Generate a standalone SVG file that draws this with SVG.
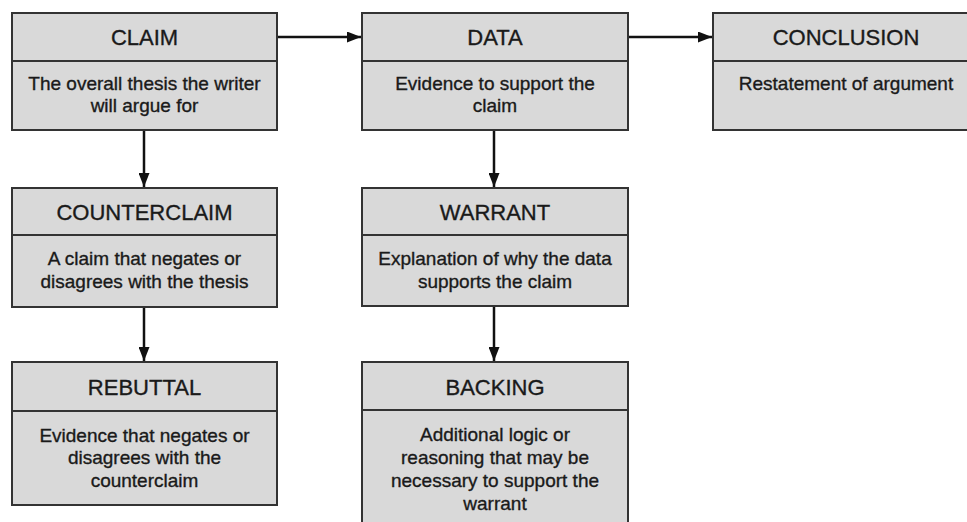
<svg xmlns="http://www.w3.org/2000/svg" width="967" height="522" viewBox="0 0 967 522">
  <defs>
    <marker id="ah" markerWidth="14" markerHeight="11" refX="14" refY="5.5" orient="auto" markerUnits="userSpaceOnUse">
      <path d="M0,0 L14,5.5 L0,11 Z" fill="#111"/>
    </marker>
    <style>
      .box { fill: #d9d9d9; stroke: #333; stroke-width: 2; }
      .div { stroke: #333; stroke-width: 2; }
      .hd { font-family: "Liberation Sans", Arial, sans-serif; font-size: 22px; fill: #1a1a1a; stroke: #1a1a1a; stroke-width: 0.35; text-anchor: middle; }
      .bd { font-family: "Liberation Sans", Arial, sans-serif; font-size: 19px; fill: #1a1a1a; stroke: #1a1a1a; stroke-width: 0.35; text-anchor: middle; }
      .conn { stroke: #111; stroke-width: 2.5; fill: none; marker-end: url(#ah); }
    </style>
  </defs>
  <rect width="967" height="522" fill="#fff"/>

  <g id="claim">
    <rect class="box" x="12" y="13" width="265" height="117"/>
    <line class="div" x1="12" y1="61" x2="277" y2="61"/>
    <text class="hd" x="144.5" y="45">CLAIM</text>
    <text class="bd" x="144.5" y="90">The overall thesis the writer</text>
    <text class="bd" x="144.5" y="112">will argue for</text>
  </g>

  <g id="data">
    <rect class="box" x="362" y="13" width="266" height="117"/>
    <line class="div" x1="362" y1="61" x2="628" y2="61"/>
    <text class="hd" x="495" y="45">DATA</text>
    <text class="bd" x="495" y="90">Evidence to support the</text>
    <text class="bd" x="495" y="112">claim</text>
  </g>

  <g id="conclusion">
    <rect class="box" x="713" y="13" width="266" height="117"/>
    <line class="div" x1="713" y1="61" x2="979" y2="61"/>
    <text class="hd" x="846" y="45">CONCLUSION</text>
    <text class="bd" x="846" y="90">Restatement of argument</text>
  </g>

  <g id="counterclaim">
    <rect class="box" x="12" y="188" width="265" height="119"/>
    <line class="div" x1="12" y1="235" x2="277" y2="235"/>
    <text class="hd" x="144.5" y="220">COUNTERCLAIM</text>
    <text class="bd" x="144.5" y="265">A claim that negates or</text>
    <text class="bd" x="144.5" y="288">disagrees with the thesis</text>
  </g>

  <g id="warrant">
    <rect class="box" x="362" y="188" width="266" height="118"/>
    <line class="div" x1="362" y1="235" x2="628" y2="235"/>
    <text class="hd" x="495" y="220">WARRANT</text>
    <text class="bd" x="495" y="265">Explanation of why the data</text>
    <text class="bd" x="495" y="288">supports the claim</text>
  </g>

  <g id="rebuttal">
    <rect class="box" x="12" y="362" width="265" height="143"/>
    <line class="div" x1="12" y1="411" x2="277" y2="411"/>
    <text class="hd" x="144.5" y="395">REBUTTAL</text>
    <text class="bd" x="144.5" y="442">Evidence that negates or</text>
    <text class="bd" x="144.5" y="464">disagrees with the</text>
    <text class="bd" x="144.5" y="487">counterclaim</text>
  </g>

  <g id="backing">
    <rect class="box" x="362" y="362" width="266" height="175"/>
    <line class="div" x1="362" y1="410" x2="628" y2="410"/>
    <text class="hd" x="495" y="395">BACKING</text>
    <text class="bd" x="495" y="441">Additional logic or</text>
    <text class="bd" x="495" y="464">reasoning that may be</text>
    <text class="bd" x="495" y="487">necessary to support the</text>
    <text class="bd" x="495" y="510">warrant</text>
  </g>

  <g id="connectors">
    <line class="conn" x1="278" y1="37" x2="361" y2="37"/>
    <line class="conn" x1="629" y1="37" x2="712" y2="37"/>
    <line class="conn" x1="144" y1="131" x2="144" y2="187"/>
    <line class="conn" x1="144" y1="308" x2="144" y2="361"/>
    <line class="conn" x1="494" y1="131" x2="494" y2="187"/>
    <line class="conn" x1="494" y1="307" x2="494" y2="361"/>
  </g>
</svg>
